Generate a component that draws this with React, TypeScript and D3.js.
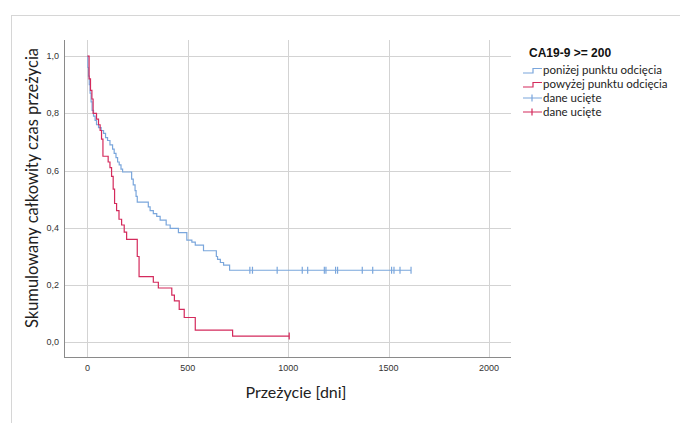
import { useEffect, useRef } from "react";
import * as d3 from "d3";

// Kaplan-Meier steps (days, survival)
const belowTimes = [0, 2, 5, 9, 13, 18, 23, 30, 38, 45, 55, 68, 80, 90, 100, 112, 125, 133, 142, 150, 158, 167, 175, 220, 228, 237, 242, 248, 303, 312, 328, 345, 362, 392, 412, 453, 495, 520, 537, 578, 642, 648, 662, 678, 708];
const belowSurv = [1.0, 0.96, 0.93, 0.9, 0.87, 0.84, 0.81, 0.79, 0.775, 0.76, 0.75, 0.74, 0.73, 0.715, 0.705, 0.69, 0.675, 0.66, 0.645, 0.63, 0.62, 0.605, 0.595, 0.57, 0.55, 0.53, 0.51, 0.49, 0.473, 0.46, 0.45, 0.44, 0.427, 0.41, 0.398, 0.383, 0.357, 0.35, 0.34, 0.32, 0.3, 0.29, 0.279, 0.27, 0.252];
const belowCensored = [809, 822, 945, 1070, 1097, 1180, 1188, 1236, 1246, 1369, 1421, 1515, 1527, 1557, 1612];

const aboveTimes = [0, 8, 15, 22, 28, 45, 55, 63, 70, 77, 103, 112, 120, 128, 135, 145, 157, 170, 183, 195, 248, 257, 328, 353, 420, 433, 457, 482, 537, 723];
const aboveSurv = [1.0, 0.92, 0.88, 0.85, 0.8, 0.78, 0.76, 0.74, 0.71, 0.65, 0.63, 0.61, 0.58, 0.535, 0.485, 0.46, 0.43, 0.41, 0.385, 0.36, 0.3, 0.23, 0.21, 0.19, 0.165, 0.145, 0.115, 0.087, 0.043, 0.022];
const aboveCensored = [1005];

const xTicks = [0, 500, 1000, 1500, 2000];
const yTicks = [0, 0.2, 0.4, 0.6, 0.8, 1.0];

const legendTitle = "CA19-9 >= 200";
const legendLabels = ["poniżej punktu odcięcia", "powyżej punktu odcięcia", "dane ucięte", "dane ucięte"];

const BLUE = "#7aa6dc";
const RED = "#d42a5c";

export default function App() {
    const ref = useRef(null);
    const width = 680;
    const height = 423;

    useEffect(() => {
        const svg = d3.select(ref.current);
        svg.selectAll("*").remove();

        const left = 64, right = 511, top = 40, bottom = 357;
        const x = d3.scaleLinear().domain([-117, 2110]).range([left, right]);
        const y = d3.scaleLinear().domain([-0.051, 1.056]).range([bottom, top]);

        // outer frame
        svg.append("rect")
            .attr("x", 11.5).attr("y", 15.5)
            .attr("width", 700).attr("height", 420)
            .attr("fill", "white")
            .attr("stroke", "#d6d6d6");

        // grid
        const grid = svg.append("g").attr("stroke", "#d3d3d3").attr("stroke-width", 1);
        grid.selectAll("line.h").data(yTicks).join("line")
            .attr("class", "h")
            .attr("x1", left).attr("x2", right)
            .attr("y1", d => Math.round(y(d)) + 0.5).attr("y2", d => Math.round(y(d)) + 0.5);
        grid.selectAll("line.v").data(xTicks).join("line")
            .attr("class", "v")
            .attr("y1", top).attr("y2", bottom)
            .attr("x1", d => Math.round(x(d)) + 0.5).attr("x2", d => Math.round(x(d)) + 0.5);

        // axis lines
        svg.append("line").attr("x1", left + 0.5).attr("x2", left + 0.5).attr("y1", top).attr("y2", bottom + 0.5)
            .attr("stroke", "#8a8a8a");
        svg.append("line").attr("x1", left).attr("x2", right).attr("y1", bottom + 0.5).attr("y2", bottom + 0.5)
            .attr("stroke", "#8a8a8a");

        // tick labels
        const fmt = d => d3.format(".1f")(d).replace(".", ",");
        svg.append("g").selectAll("text").data(yTicks).join("text")
            .attr("x", 59).attr("y", d => y(d) + 3)
            .attr("text-anchor", "end")
            .attr("font-family", "Liberation Sans, Arial, sans-serif")
            .attr("font-size", 9)
            .attr("fill", "#333")
            .text(fmt);
        svg.append("g").selectAll("text").data(xTicks).join("text")
            .attr("x", d => x(d)).attr("y", bottom + 14)
            .attr("text-anchor", "middle")
            .attr("font-family", "Liberation Sans, Arial, sans-serif")
            .attr("font-size", 9)
            .attr("fill", "#333")
            .text(d => d);

        // axis titles
        svg.append("text")
            .attr("transform", `translate(38, 188) rotate(-90)`)
            .attr("text-anchor", "middle")
            .attr("font-family", "Lato, sans-serif")
            .attr("font-size", 16.5)
            .attr("fill", "#222")
            .text("Skumulowany całkowity czas przeżycia");
        svg.append("text")
            .attr("x", 296).attr("y", 398)
            .attr("text-anchor", "middle")
            .attr("font-family", "Lato, sans-serif")
            .attr("font-size", 16)
            .attr("fill", "#222")
            .text("Przeżycie [dni]");

        // survival curves
        const line = d3.line().x(d => x(d[0])).y(d => y(d[1])).curve(d3.curveStepAfter);
        const series = [
            { times: belowTimes, surv: belowSurv, censored: belowCensored, color: BLUE },
            { times: aboveTimes, surv: aboveSurv, censored: aboveCensored, color: RED },
        ];
        series.forEach(s => {
            const pts = s.times.map((t, i) => [t, s.surv[i]]);
            const lastT = d3.max(s.censored);
            pts.push([lastT, s.surv[s.surv.length - 1]]);
            svg.append("path")
                .attr("d", line(pts))
                .attr("fill", "none")
                .attr("stroke", s.color)
                .attr("stroke-width", 1.2);
            const lastSurv = s.surv[s.surv.length - 1];
            svg.append("g").selectAll("line").data(s.censored).join("line")
                .attr("x1", d => x(d)).attr("x2", d => x(d))
                .attr("y1", y(lastSurv) - 3.5).attr("y2", y(lastSurv) + 3.5)
                .attr("stroke", s.color)
                .attr("stroke-width", 1.2);
        });

        // legend
        const lg = svg.append("g").attr("transform", "translate(522, 0)");
        lg.append("text")
            .attr("x", 7).attr("y", 57)
            .attr("font-family", "Liberation Sans, Arial, sans-serif")
            .attr("font-weight", "bold")
            .attr("font-size", 12)
            .attr("fill", "#111")
            .text(legendTitle);
        const rowY = [70, 84, 98, 112];
        const colors = [BLUE, RED, BLUE, RED];
        legendLabels.forEach((lab, i) => {
            const cy = rowY[i];
            if (i < 2) {
                lg.append("path")
                    .attr("d", `M1,${cy + 3} H11 V${cy - 1.5} H20`)
                    .attr("fill", "none").attr("stroke", colors[i]).attr("stroke-width", 1.2);
            } else {
                lg.append("path")
                    .attr("d", `M1,${cy} H20 M10,${cy - 3.5} V${cy + 3.5}`)
                    .attr("fill", "none").attr("stroke", colors[i]).attr("stroke-width", 1.2);
            }
            lg.append("text")
                .attr("x", 21).attr("y", cy + 4)
                .attr("font-family", "Lato, sans-serif")
                .attr("font-size", 11.5)
                .attr("fill", "#222")
                .text(lab);
        });
    }, []);

    return (
        <svg ref={ref} width={width} height={height}
            style={{ position: "absolute", left: 0, top: 0, background: "white" }} />
    );
}
